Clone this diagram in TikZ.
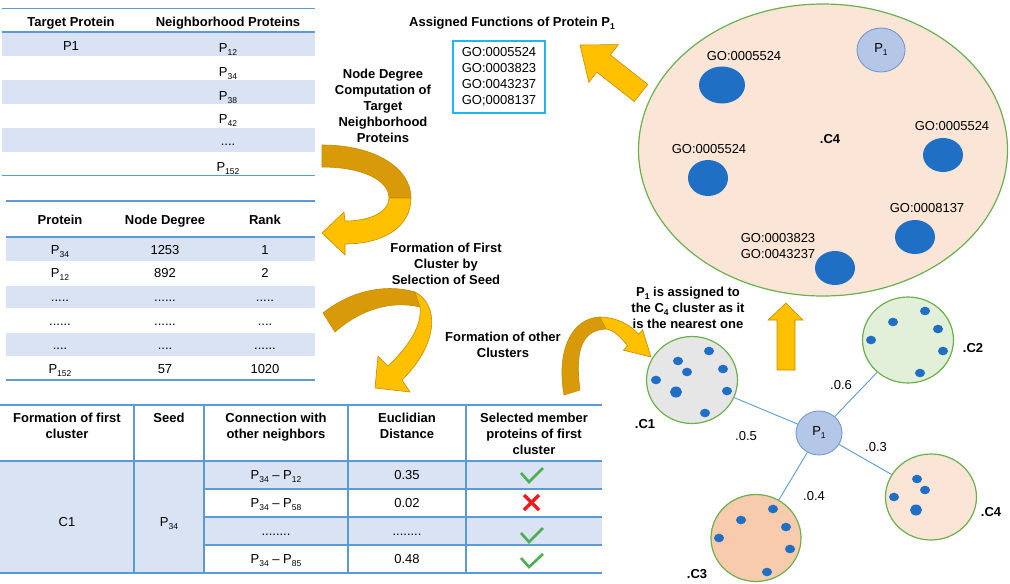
\documentclass[tikz,border=0pt]{standalone}
\usepackage{fontspec}
\setmainfont{Liberation Sans}
\usetikzlibrary{shapes.geometric,positioning}

\definecolor{tblline}{HTML}{5B9BD5}
\definecolor{tblfill}{HTML}{DAE3F3}
\definecolor{golddark}{HTML}{D89A08}
\definecolor{goldlight}{HTML}{FFC000}
\definecolor{goldedge}{HTML}{C58C00}
\definecolor{peach}{HTML}{FBE5D6}
\definecolor{salmon}{HTML}{F8CBAD}
\definecolor{mint}{HTML}{E2F0D9}
\definecolor{greyfill}{HTML}{E7E6E6}
\definecolor{ringgreen}{HTML}{6AB04C}
\definecolor{dotblue}{HTML}{1F6FC5}
\definecolor{pfill}{HTML}{B4C7E7}
\definecolor{pedge}{HTML}{7499D0}
\definecolor{boxcyan}{HTML}{1FB8EE}
\definecolor{okgreen}{HTML}{4CAF50}
\definecolor{badred}{HTML}{F21A1A}

\newcommand{\picfont}{\fontsize{13}{16}\selectfont}
\newcommand{\lowsub}[1]{\raisebox{-3pt}{\fontsize{8.5}{9}\selectfont #1}}
\newcommand{\Pn}[1]{P\lowsub{#1}}

\tikzset{
  hd/.style={font=\picfont\bfseries},
  cell/.style={anchor=base},
  tblrule/.style={draw=tblline, line width=1.8pt},
  rowrule/.style={draw=tblline, line width=1.3pt},
  ring/.style={ellipse, draw=ringgreen, line width=1.2pt, inner sep=0pt},
  prot/.style={ellipse, draw=pedge, fill=pfill, line width=0.9pt, inner sep=0pt},
  link/.style={draw=tblline, line width=0.9pt},
  tick/.style={draw=okgreen, line width=2.6pt},
  cross/.style={draw=badred, line width=3.4pt},
  gold/.style={fill=goldlight, draw=goldedge, line width=0.6pt},
  golddk/.style={fill=golddark, draw=goldedge, line width=0.6pt},
}

\begin{document}
\begin{tikzpicture}[x=1pt,y=-1pt, every node/.style={font=\picfont, inner sep=0pt}]
\useasboundingbox (0,0) rectangle (1010,584);

% table of target and neighbourhood proteins
\fill[tblfill] (2,33) rectangle (315,56);
\fill[tblfill] (2,80) rectangle (315,104);
\fill[tblfill] (2,128) rectangle (315,152);
\draw[tblrule] (2,8.5) -- (315,8.5);
\draw[tblrule] (2,32) -- (315,32);
\draw[tblrule] (2,175.5) -- (315,175.5);
\node[hd, cell] (tgthd) at (71,26) {Target Protein};
\node[hd, cell] (nbrhd) at (228,26) {Neighborhood Proteins};
\node[cell] (tgt) at (71,50) {P1};
\node[cell] (nb1) at (228,52.5) {\Pn{12}};
\node[cell] (nb2) at (228,76.3) {\Pn{34}};
\node[cell] (nb3) at (228,100.1) {\Pn{38}};
\node[cell] (nb4) at (228,123.9) {\Pn{42}};
\node[cell] (nb5) at (228,145) {....};
\node[cell] (nb6) at (228,171.5) {\Pn{152}};

% node degree table
\fill[tblfill] (6,238) rectangle (315,260.5);
\fill[tblfill] (6,285.7) rectangle (315,308);
\fill[tblfill] (6,333) rectangle (315,355.7);
\draw[tblrule] (6,201) -- (315,201);
\draw[tblrule] (6,237) -- (315,237);
\draw[tblrule] (6,380) -- (315,380);
\node[hd, cell] (prhd) at (60,224) {Protein};
\node[hd, cell] (dghd) at (165,224) {Node Degree};
\node[hd, cell] (rkhd) at (265,224) {Rank};
\node[cell] (pr1) at (60,254) {\Pn{34}};
\node[cell] (dg1) at (165,254) {1253};
\node[cell] (rk1) at (265,254) {1};
\node[cell] (pr2) at (60,277.8) {\Pn{12}};
\node[cell] (dg2) at (165,277.8) {892};
\node[cell] (rk2) at (265,277.8) {2};
\node[cell] (pr3) at (60,301.6) {.....};
\node[cell] (dg3) at (165,301.6) {......};
\node[cell] (rk3) at (265,301.6) {.....};
\node[cell] (pr4) at (60,325.4) {......};
\node[cell] (dg4) at (165,325.4) {......};
\node[cell] (rk4) at (265,325.4) {....};
\node[cell] (pr5) at (60,349.2) {....};
\node[cell] (dg5) at (165,349.2) {....};
\node[cell] (rk5) at (265,349.2) {......};
\node[cell] (pr6) at (60,373) {\Pn{152}};
\node[cell] (dg6) at (165,373) {57};
\node[cell] (rk6) at (265,373) {1020};

% first cluster table
\fill[tblfill] (0,461) rectangle (204,573);
\fill[tblfill] (204,461) rectangle (602,489);
\fill[tblfill] (204,517) rectangle (602,545);
\draw[rowrule] (204,489) -- (602,489);
\draw[rowrule] (204,517) -- (602,517);
\draw[rowrule] (204,545) -- (602,545);
\draw[rowrule] (134,405) -- (134,573);
\draw[rowrule] (204,405) -- (204,573);
\draw[rowrule] (348,405) -- (348,573);
\draw[rowrule] (466,405) -- (466,573);
\draw[tblrule] (0,405) -- (602,405);
\draw[tblrule] (0,461) -- (602,461);
\draw[tblrule] (0,573) -- (602,573);
\node[hd, align=center, anchor=north] (fmhd) at (67,412.5) {Formation of first\\cluster};
\node[hd, align=center, anchor=north] (sdhd) at (169,412.5) {Seed};
\node[hd, align=center, anchor=north] (cnhd) at (276,412.5) {Connection with\\other neighbors};
\node[hd, align=center, anchor=north] (eudhd) at (407,412.5) {Euclidian\\Distance};
\node[hd, align=center, anchor=north] (slhd) at (534,412.5) {Selected member\\proteins of first\\cluster};
\node[cell] (clus) at (67,526) {C1};
\node[cell] (seed) at (169,526) {\Pn{34}};
\node[cell] (cn1) at (276,479) {\Pn{34} -- \Pn{12}};
\node[cell] (cn2) at (276,507) {\Pn{34} -- \Pn{58}};
\node[cell] (cn3) at (276,535) {........};
\node[cell] (cn4) at (276,563) {\Pn{34} -- \Pn{85}};
\node[cell] (ed1) at (407,479) {0.35};
\node[cell] (ed2) at (407,507) {0.02};
\node[cell] (ed3) at (407,535) {........};
\node[cell] (ed4) at (407,563) {0.48};
\draw[tick] (521,473) -- (529,482) -- (543,468);
\draw[cross] (524,495) -- (539,510) (524,510) -- (539,495);
\draw[tick] (521,533) -- (529,542) -- (543,528);
\draw[tick] (521,558) -- (529,567) -- (543,554);

% curved arrows between the tables
\filldraw[golddk] (322,145) .. controls (375,145) and (411,168) .. (411,198)
  -- (389,198) .. controls (389,180) and (362,167) .. (322,167) -- cycle;
\filldraw[gold] (411,198) .. controls (411,228) and (382,244) .. (345,244)
  -- (345,255) -- (322,233) -- (344,212) -- (345,221)
  .. controls (370,221) and (389,212) .. (389,198) -- cycle;
\node[hd, align=center] (step1) at (383,106) {Node Degree\\Computation of\\Target\\Neighborhood\\Proteins};

\filldraw[golddk] (323,313) .. controls (345,295) and (380,282) .. (415,292)
  -- (420,307) .. controls (390,300) and (360,310) .. (335,332) -- cycle;
\filldraw[gold] (415,292) .. controls (440,305) and (438,345) .. (402,380)
  -- (410,392) -- (375,388) -- (378,356) -- (388,366)
  .. controls (410,345) and (422,325) .. (420,307) -- cycle;
\node[hd, align=center] (step2) at (446,264) {Formation of First\\Cluster by\\Selection of Seed};

\filldraw[golddk] (564,395) .. controls (556,350) and (572,318) .. (600,317)
  -- (606,329) .. controls (585,330) and (574,345) .. (580,390) -- cycle;
\filldraw[gold] (600,317) .. controls (615,317) and (630,324) .. (638.5,334.2)
  -- (642.6,329.8) -- (651,357) -- (623.4,350.2) -- (627.5,345.8)
  .. controls (620,336) and (613,330) .. (606,329) -- cycle;
\node[hd, align=center] (step3) at (503,345) {Formation of other\\Clusters};

% assigned functions
\node[hd] (asgn) at (512,23) {Assigned Functions of Protein \Pn{1}};
\draw[draw=boxcyan, line width=1.5pt] (453,41) rectangle (545,113);
\node[align=left] (golist) at (499,77) {GO:0005524\\GO:0003823\\GO:0043237\\GO;0008137};
\filldraw[gold] (647.8,84.4) -- (610.4,54.9) -- (618.4,44.6) -- (580,45)
  -- (588.8,82.4) -- (596.8,72.1) -- (634.2,101.6) -- cycle;

% cluster C4 with the GO terms of its members
\node[ring, fill=peach, minimum width=369pt, minimum height=292pt] (bigc4) at (823,150) {};
\fill[dotblue] (722,85) ellipse (23 and 18.5);
\fill[dotblue] (708,178) ellipse (20 and 18);
\fill[dotblue] (943,155) ellipse (20 and 17);
\fill[dotblue] (915,237) ellipse (20 and 17);
\fill[dotblue] (835,268) ellipse (20 and 17);
\node[prot, minimum width=48pt, minimum height=44pt] (pbig) at (881,50) {\Pn{1}};
\node (go1) at (744,56) {GO:0005524};
\node (go2) at (709,149) {GO:0005524};
\node (go3) at (952,126) {GO:0005524};
\node (go4) at (927,208) {GO:0008137};
\node[align=left] (go5) at (778,246) {GO:0003823\\GO:0043237};
\node[hd] (bigc4lbl) at (830,139) {.C4};

% nearest cluster
\filldraw[gold] (777,370) -- (777,320) -- (768,320) -- (786,303) -- (803,320) -- (795,320) -- (795,370) -- cycle;
\node[hd, align=center] (note) at (688,307.5) {\Pn{1} is assigned to\\the C\lowsub{4} cluster as it\\is the nearest one};

\node[ring, fill=greyfill, minimum width=91pt, minimum height=87pt] (c1) at (692,380) {};
\node[ring, fill=mint, minimum width=91pt, minimum height=86pt] (c2) at (908,340) {};
\node[ring, fill=salmon, minimum width=90pt, minimum height=87pt] (c3) at (756,538) {};
\node[ring, fill=peach, minimum width=91pt, minimum height=86pt] (c4) at (931,497) {};
\foreach \px/\py in {709/351, 678/361, 687/372, 723/369, 656/380, 727/391, 705/413,
    925/311, 893/322, 938/329, 871/340, 943/351, 920/373,
    773/509, 741/520, 786/527, 719/538, 790/549, 767/572,
    917/479, 925/490, 894/497}
  \fill[dotblue] (\px,\py) ellipse (5 and 4.3);
\fill[dotblue] (676,392) ellipse (6 and 5.5);
\fill[dotblue] (916,510) ellipse (6 and 5.5);
\node[hd] (c1lbl) at (645,424) {.C1};
\node[hd] (c2lbl) at (973,348) {.C2};
\node[hd] (c3lbl) at (697,574) {.C3};
\node[hd] (c4lbl) at (991,512) {.C4};

\node[prot, minimum width=46pt, minimum height=44pt] (pc) at (819,433) {\Pn{1}};
\draw[link] (pc) -- (c1);
\draw[link] (pc) -- (c2);
\draw[link] (pc) -- (c3);
\draw[link] (pc) -- (c4);
\node (d1) at (746,436) {.0.5};
\node (d2) at (841,385) {.0.6};
\node (d4) at (876,447) {.0.3};
\node (d3) at (814,496) {.0.4};
\end{tikzpicture}
\end{document}
